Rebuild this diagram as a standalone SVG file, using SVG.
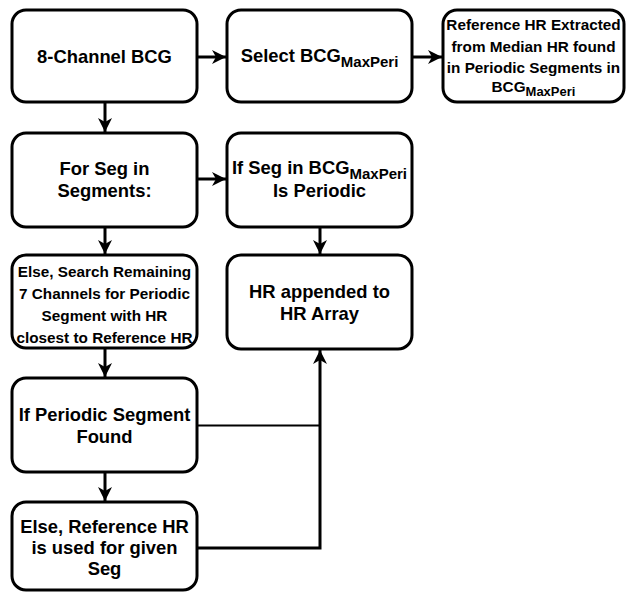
<svg xmlns="http://www.w3.org/2000/svg" width="626" height="592" viewBox="0 0 626 592">
<style>
.box{fill:#fff;stroke:#000;stroke-width:3}
.t{font-family:"Liberation Sans",Arial,sans-serif;font-weight:bold;font-size:18.4px;text-anchor:middle;fill:#000}
.s{font-size:15.3px}
.sub{font-size:15px}
.sub2{font-size:13px}
.c{fill:none;stroke:#000;stroke-width:3}
.thin{stroke-width:2}
</style>
<defs>
<marker id="ah" markerUnits="userSpaceOnUse" markerWidth="16" markerHeight="16" refX="14" refY="7" orient="auto">
<path d="M0,0 L14,7 L0,14 L4,7 z" fill="#000"/>
</marker>
</defs>
<rect width="626" height="592" fill="#fff"/>
<g id="connectors">
<path class="c" d="M197,57 H226" marker-end="url(#ah)"/>
<path class="c" d="M412,57 H442" marker-end="url(#ah)"/>
<path class="c" d="M105,102 V132" marker-end="url(#ah)"/>
<path class="c" d="M197,179 H226" marker-end="url(#ah)"/>
<path class="c" d="M105,227 V254" marker-end="url(#ah)"/>
<path class="c" d="M320,227 V254" marker-end="url(#ah)"/>
<path class="c" d="M105,348 V377" marker-end="url(#ah)"/>
<path class="c" d="M105,472 V501" marker-end="url(#ah)"/>
<path class="c thin" d="M197,425.5 H320"/>
<path class="c" d="M197,548 H320 V350" marker-end="url(#ah)"/>
</g>
<g id="n1"><rect class="box" x="12" y="10" width="185" height="92" rx="14"/>
<text class="t" x="104.5" y="63">8-Channel BCG</text></g>
<g id="n2"><rect class="box" x="227" y="10" width="185" height="92" rx="14"/>
<text class="t" x="319.5" y="62">Select BCG<tspan class="sub" dy="5">MaxPeri</tspan></text></g>
<g id="n3"><rect class="box" x="443" y="10" width="181" height="92" rx="14"/>
<text class="t s" x="533.5" y="30">Reference HR Extracted</text>
<text class="t s" x="533.5" y="51.5">from Median HR found</text>
<text class="t s" x="533.5" y="73">in Periodic Segments in</text>
<text class="t s" x="533.5" y="92">BCG<tspan class="sub2" dy="4">MaxPeri</tspan></text></g>
<g id="n4"><rect class="box" x="12" y="133" width="185" height="94" rx="14"/>
<text class="t" x="104.5" y="175">For Seg in</text>
<text class="t" x="104.5" y="197">Segments:</text></g>
<g id="n5"><rect class="box" x="227" y="133" width="185" height="94" rx="14"/>
<text class="t" x="319.5" y="174">If Seg in BCG<tspan class="sub" dy="5">MaxPeri</tspan></text>
<text class="t" x="319.5" y="197">Is Periodic</text></g>
<g id="n6"><rect class="box" x="12" y="255" width="185" height="93" rx="14"/>
<text class="t s" x="104.5" y="277">Else, Search Remaining</text>
<text class="t s" x="104.5" y="299">7 Channels for Periodic</text>
<text class="t s" x="104.5" y="321">Segment with HR</text>
<text class="t s" x="104.5" y="343">closest to Reference HR</text></g>
<g id="n7"><rect class="box" x="227" y="255" width="185" height="94" rx="14"/>
<text class="t" x="319.5" y="298">HR appended to</text>
<text class="t" x="319.5" y="320">HR Array</text></g>
<g id="n8"><rect class="box" x="12" y="378" width="185" height="94" rx="14"/>
<text class="t" x="104.5" y="421">If Periodic Segment</text>
<text class="t" x="104.5" y="443">Found</text></g>
<g id="n9"><rect class="box" x="12" y="502" width="185" height="88" rx="14"/>
<text class="t" x="104.5" y="533">Else, Reference HR</text>
<text class="t" x="104.5" y="554">is used for given</text>
<text class="t" x="104.5" y="575">Seg</text></g>
</svg>
